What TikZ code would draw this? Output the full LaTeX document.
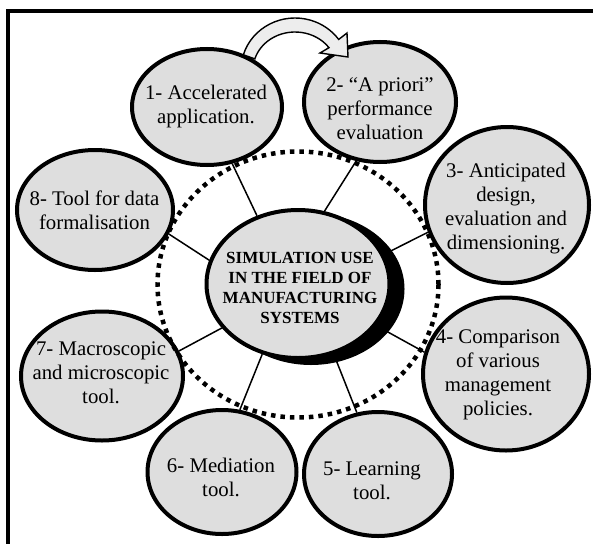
\documentclass[tikz,border=0pt]{standalone}
\usepackage{fontspec}
\setmainfont{Liberation Serif}
\usetikzlibrary{shapes.geometric,backgrounds}
\definecolor{bubfill}{gray}{0.87}
\definecolor{arrfill}{gray}{0.93}
\begin{document}
\begin{tikzpicture}[x=1pt,y=-1pt,
  bub/.style={ellipse, draw=black, line width=4pt, fill=bubfill, inner sep=0pt},
  lbl/.style={align=center, font=\fontsize{20.8}{24}\selectfont, inner sep=0pt},
  spoke/.style={line width=1.5pt},
  ]
\useasboundingbox (0,0) rectangle (593,543);
% frame
\draw[line width=4pt, line join=miter] (7.7,548) -- (7.7,11) -- (598,11);
% bubbles
\node[bub, minimum width=150pt, minimum height=116pt] (c1) at (207,107) {};
\node[bub, minimum width=152pt, minimum height=120pt] (c2) at (380,102) {};
\node[bub, minimum width=164pt, minimum height=156pt] (c3) at (507,205) {};
\node[bub, minimum width=166pt, minimum height=153pt] (c4) at (506,374) {};
\node[bub, minimum width=148pt, minimum height=124pt] (c5) at (378,474) {};
\node[bub, minimum width=149pt, minimum height=124pt] (c6) at (222,472) {};
\node[bub, minimum width=162pt, minimum height=129pt] (c7) at (102,376) {};
\node[bub, minimum width=156pt, minimum height=120pt] (c8) at (95,210) {};
% core with shadow
\node[ellipse, fill=black, inner sep=0pt, minimum width=187pt, minimum height=152pt] (shadow) at (311,289) {};
\node[bub, minimum width=183pt, minimum height=148pt] (core) at (298,284) {};
% arrow from 1 to 2
\draw[line width=1.4pt, fill=arrfill, line join=miter]
  (295,70) ++(-163:54 and 52) arc[start angle=-163, end angle=-36, x radius=54, y radius=52]
  -- (347,33) -- (348,57) -- (320,53)
  -- ([shift={(295,70)}]-36:42 and 38) arc[start angle=-36, end angle=-163, x radius=42, y radius=38]
  -- cycle;
% dotted ring
\node[ellipse, draw=black, line width=4.5pt, dash pattern=on 4.5pt off 5pt, inner sep=0pt,
      minimum width=281pt, minimum height=266pt] (ring) at (298,284.5) {};
% spokes
\begin{pgfonlayer}{background}
\draw[spoke] (c1.-66) -- (core.121);
\draw[spoke] (c2.-112) -- (core.70);
\draw[spoke] (c3.-161) -- (core.19);
\draw[spoke] (c4.165) -- (core.-28);
\draw[spoke] (c5.109) -- (core.-63);
\draw[spoke] (c6.74) -- (core.-117);
\draw[spoke] (c7.18) -- (core.-150);
\draw[spoke] (c8.-18) -- (core.165);
\end{pgfonlayer}
% texts
\node[lbl] (t1) at (206,106) {1- Accelerated\\application.};
\node[lbl] (t2) at (380,108.5) {2- “A priori”\\performance\\evaluation};
\node[lbl] (t3) at (506,209) {3- Anticipated\\design,\\evaluation and\\dimensioning.};
\node[lbl] (t4) at (498,375) {4- Comparison\\of various\\management\\policies.};
\node[lbl] (t5) at (372,481) {5- Learning\\tool.};
\node[lbl] (t6) at (221,477) {6- Mediation\\tool.};
\node[lbl] (t7) at (101,373) {7- Macroscopic\\and microscopic\\tool.};
\node[lbl] (t8) at (94.5,210) {8- Tool for data\\formalisation};
\node[lbl, font=\bfseries\fontsize{17}{20}\selectfont] (tc) at (300,288) {SIMULATION USE\\IN THE FIELD OF\\MANUFACTURING\\SYSTEMS};
\end{tikzpicture}
\end{document}
